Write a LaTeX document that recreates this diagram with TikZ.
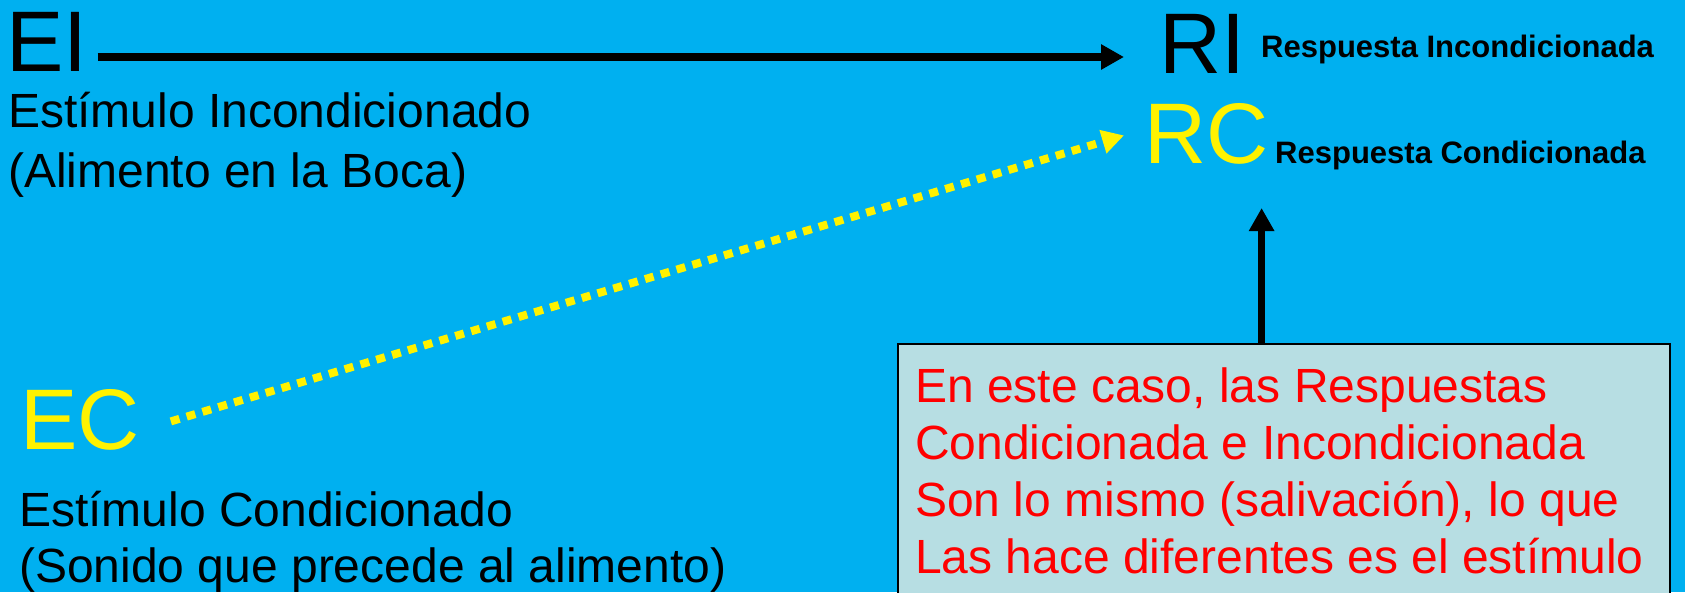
\documentclass[tikz,border=0pt]{standalone}
\usepackage{fontspec}
\setmainfont{Liberation Sans}
\usetikzlibrary{arrows.meta}
\definecolor{slideblue}{HTML}{00B0F0}
\definecolor{notefill}{HTML}{B7DEE3}

\begin{document}
\begin{tikzpicture}[x=1pt, y=-1pt,
    big/.style={inner sep=0pt, anchor=base west, font=\fontsize{86}{100}\selectfont},
    desc/.style={inner sep=0pt, anchor=north west, align=left},
    tag/.style={inner sep=0pt, anchor=base west, font=\bfseries\fontsize{31}{36}\selectfont},
    link/.style={line width=7.5pt, -{Triangle[length=23pt, width=24pt]}},
    dots/.style={yellow, line width=8pt, dash pattern=on 9pt off 7.5pt, -{Triangle[length=22pt, width=23pt]}}]
    	% Slide, nodes and arrows:
    	\useasboundingbox (0,0) rectangle (1685,592);
    	\fill[slideblue] (0,0) rectangle (1685,592);
    	\node[big] (EI) at (6,71) {EI};
    	\node[desc, font=\fontsize{48}{60}\selectfont] (EIdesc) at (8,92) {Estímulo Incondicionado\\(Alimento en la Boca)};
    	\node[big] (RI) at (1159,73) {RI};
    	\node[tag] (RItag) at (1261,57) {Respuesta Incondicionada};
    	\node[big, text=yellow] (RC) at (1144,163) {RC};
    	\node[tag] (RCtag) at (1275,163) {Respuesta Condicionada};
    	\node[big, text=yellow] (EC) at (20,449) {EC};
    	\node[desc, font=\fontsize{48}{56}\selectfont] (ECdesc) at (19,491) {Estímulo Condicionado\\(Sonido que precede al alimento)};
    	\node[draw, fill=notefill, line width=1.5pt, anchor=north west, inner sep=0pt, minimum width=772pt, minimum height=300pt] (note) at (897,343) {};
    	\node[desc, text=red, font=\fontsize{48}{57}\selectfont] (notetext) at (915,367.6) {En este caso, las Respuestas\\Condicionada e Incondicionada\\Son lo mismo (salivación), lo que\\Las hace diferentes es el estímulo};
    	\coordinate (ei-out) at ([xshift=10pt, yshift=14pt]EI.base east);
    	\coordinate (ec-out) at ([xshift=31pt, yshift=-2pt]EC.east);
    	\coordinate (rc-tip) at ([xshift=-20pt, yshift=-2pt]RC.west);
    	\coordinate (rc-in) at ([xshift=-7pt, yshift=-45pt]RC.base east);
    	\draw[link, shorten >=35pt] (ei-out) -- (ei-out -| RI.west);
    	\draw[dots] (ec-out) -- (rc-tip);
    	\draw[link] (note.north -| rc-in) -- (rc-in);
    \end{tikzpicture}
\end{document}
